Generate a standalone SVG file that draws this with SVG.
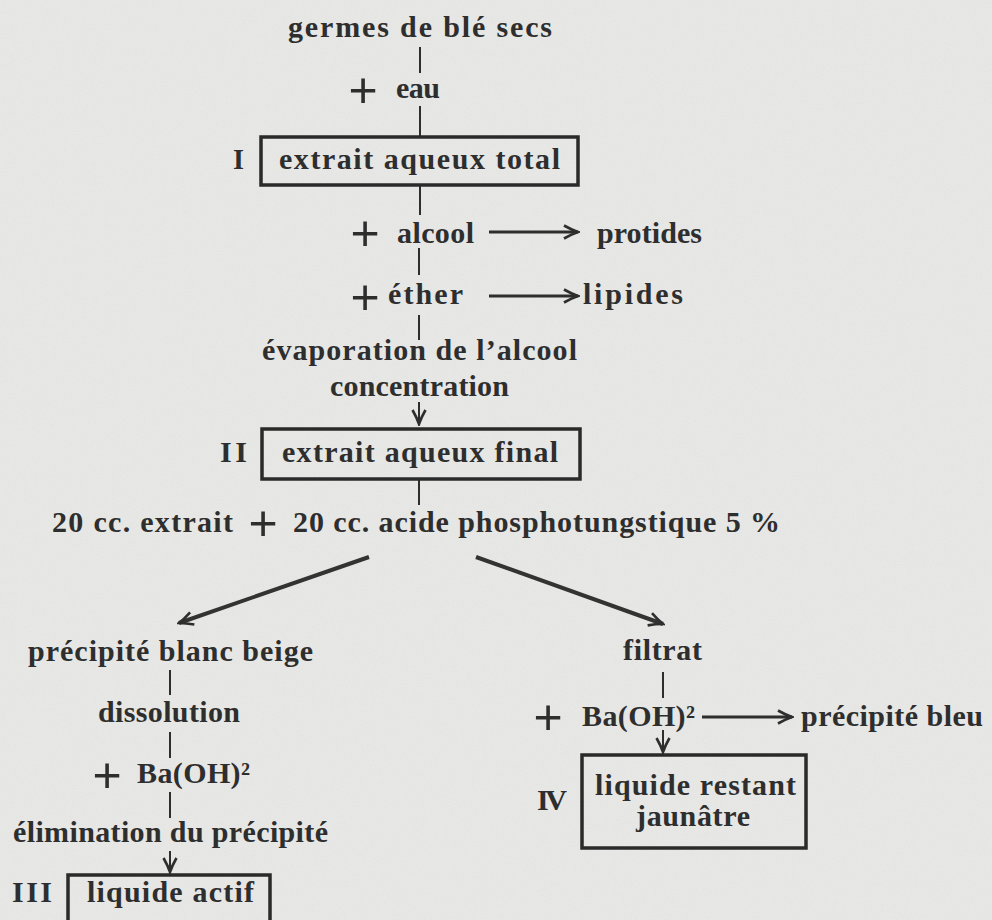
<svg xmlns="http://www.w3.org/2000/svg" width="992" height="920" viewBox="0 0 992 920">
<style>
  .t { font-family: "Liberation Serif", "DejaVu Serif", serif; font-size: 30px; font-weight: bold; fill: #2e2e2e; }
  .p { font-family: "Liberation Sans", sans-serif; font-size: 50px; fill: #2e2e2e; text-anchor: middle; dominant-baseline: central; }
  .box { fill: none; stroke: #2a2a2a; stroke-width: 3.5; }
  .ln { stroke: #2e2e2e; stroke-width: 2; fill: none; }
  .ar { stroke: #2e2e2e; stroke-width: 3; fill: none; }
  .dg { stroke: #333; stroke-width: 4; fill: none; }
</style>
<defs>
  <marker id="head" markerUnits="userSpaceOnUse" viewBox="-16 -8 18 16" refX="0" refY="0" markerWidth="18" markerHeight="16" orient="auto">
    <path d="M-14,-6.5 Q-6,-2 0,0 Q-6,2 -14,6.5" fill="none" stroke="#2e2e2e" stroke-width="2.6"/>
  </marker>
  <filter id="paper" x="0" y="0" width="100%" height="100%">
    <feTurbulence type="fractalNoise" baseFrequency="0.9" numOctaves="2" seed="3" result="n"/>
    <feColorMatrix type="matrix" values="0 0 0 0 0.5  0 0 0 0 0.5  0 0 0 0 0.5  0 0 0 -1.4 0.75" />
  </filter>
</defs>
<rect width="992" height="920" fill="#e7e7e5"/>
<rect width="992" height="920" filter="url(#paper)" opacity="0.18"/>

<g id="connectors">
  <line class="ln" x1="420" y1="47" x2="420" y2="73"/>
  <line class="ln" x1="420" y1="106" x2="420" y2="136"/>
  <line class="ln" x1="420" y1="186" x2="420" y2="215"/>
  <line class="ar" x1="489" y1="232" x2="578" y2="232" marker-end="url(#head)"/>
  <line class="ln" x1="419" y1="248" x2="419" y2="275"/>
  <line class="ar" x1="489" y1="296" x2="578" y2="296" marker-end="url(#head)"/>
  <line class="ln" x1="419" y1="315" x2="419" y2="340"/>
  <line class="ln" x1="419" y1="402" x2="419" y2="424" marker-end="url(#head)"/>
  <line class="ln" x1="419" y1="479" x2="419" y2="505"/>
  <line class="dg" x1="369" y1="557" x2="179" y2="623" marker-end="url(#head)"/>
  <line class="dg" x1="476" y1="557" x2="663" y2="624" marker-end="url(#head)"/>
  <line class="ln" x1="170" y1="670" x2="170" y2="695"/>
  <line class="ln" x1="170" y1="732" x2="170" y2="758"/>
  <line class="ln" x1="170" y1="792" x2="170" y2="818"/>
  <line class="ln" x1="170" y1="851" x2="170" y2="872" marker-end="url(#head)"/>
  <line class="ln" x1="663" y1="672" x2="663" y2="698"/>
  <line class="ar" x1="702" y1="717" x2="792" y2="717" marker-end="url(#head)"/>
  <line class="ln" x1="663" y1="730" x2="663" y2="752" marker-end="url(#head)"/>
</g>

<g id="start">
  <text class="t" x="288" y="37" textLength="264" lengthAdjust="spacing">germes de blé secs</text>
</g>
<g id="eau">
  <text class="p" x="363" y="90">+</text>
  <text class="t" x="396" y="98" textLength="44" lengthAdjust="spacing">eau</text>
</g>
<g id="node-I">
  <text class="t" x="233" y="169" textLength="11" lengthAdjust="spacingAndGlyphs">I</text>
  <rect class="box" x="261" y="137" width="317" height="48"/>
  <text class="t" x="279" y="169" textLength="281" lengthAdjust="spacing">extrait aqueux total</text>
</g>
<g id="alcool">
  <text class="p" x="365" y="233">+</text>
  <text class="t" x="397" y="243" textLength="77" lengthAdjust="spacing">alcool</text>
</g>
<g id="protides">
  <text class="t" x="597" y="243" textLength="105" lengthAdjust="spacing">protides</text>
</g>
<g id="ether">
  <text class="p" x="365" y="297">+</text>
  <text class="t" x="388" y="304" textLength="75" lengthAdjust="spacing">éther</text>
</g>
<g id="lipides">
  <text class="t" x="583" y="304" textLength="100" lengthAdjust="spacing">lipides</text>
</g>
<g id="evaporation">
  <text class="t" x="262" y="360" textLength="315" lengthAdjust="spacing">évaporation de l’alcool</text>
  <text class="t" x="330" y="396" textLength="179" lengthAdjust="spacing">concentration</text>
</g>
<g id="node-II">
  <text class="t" x="220" y="462" textLength="27" lengthAdjust="spacing">II</text>
  <rect class="box" x="262" y="429" width="318" height="50"/>
  <text class="t" x="282" y="462" textLength="276" lengthAdjust="spacing">extrait aqueux final</text>
</g>
<g id="mix">
  <text class="t" x="52" y="532" textLength="181" lengthAdjust="spacing">20 cc. extrait</text>
  <text class="p" x="263" y="523">+</text>
  <text class="t" x="293" y="532" textLength="487" lengthAdjust="spacing">20 cc. acide phosphotungstique 5 %</text>
</g>
<g id="precipite">
  <text class="t" x="28" y="661" textLength="285" lengthAdjust="spacing">précipité blanc beige</text>
</g>
<g id="dissolution">
  <text class="t" x="98" y="722" textLength="142" lengthAdjust="spacing">dissolution</text>
</g>
<g id="baoh-left">
  <text class="p" x="107" y="775">+</text>
  <text class="t" x="137" y="783" textLength="113" lengthAdjust="spacing">Ba(OH)²</text>
</g>
<g id="elimination">
  <text class="t" x="13" y="842" textLength="315" lengthAdjust="spacing">élimination du précipité</text>
</g>
<g id="node-III">
  <text class="t" x="12" y="902" textLength="40" lengthAdjust="spacing">III</text>
  <rect class="box" x="68" y="875" width="202" height="70"/>
  <text class="t" x="87" y="902" textLength="167" lengthAdjust="spacing">liquide actif</text>
</g>
<g id="filtrat">
  <text class="t" x="623" y="660" textLength="79" lengthAdjust="spacing">filtrat</text>
</g>
<g id="baoh-right">
  <text class="p" x="548" y="717">+</text>
  <text class="t" x="582" y="726" textLength="113" lengthAdjust="spacing">Ba(OH)²</text>
</g>
<g id="precipite-bleu">
  <text class="t" x="801" y="726" textLength="182" lengthAdjust="spacing">précipité bleu</text>
</g>
<g id="node-IV">
  <text class="t" x="537" y="810" textLength="30" lengthAdjust="spacing">IV</text>
  <rect class="box" x="582" y="755" width="224" height="93"/>
  <text class="t" x="595" y="795" textLength="201" lengthAdjust="spacing">liquide restant</text>
  <text class="t" x="636" y="826" textLength="114" lengthAdjust="spacing">jaunâtre</text>
</g>
</svg>
